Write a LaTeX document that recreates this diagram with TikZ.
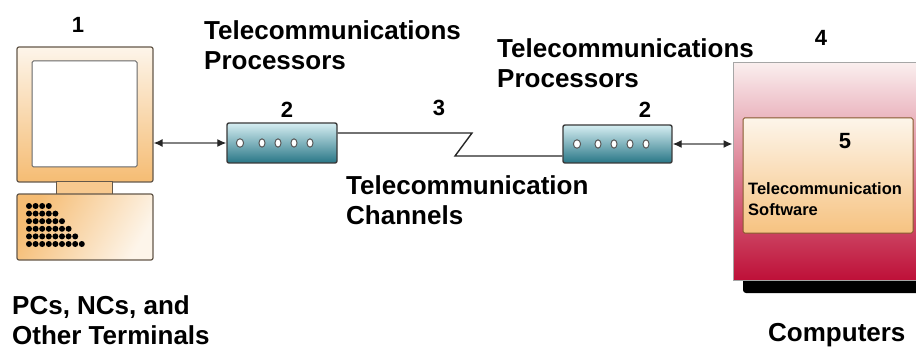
\documentclass[tikz,border=0pt]{standalone}
\usepackage{fontspec}
\setmainfont{Liberation Sans}
\usetikzlibrary{arrows.meta}

\definecolor{frameedge}{RGB}{100,88,74}
\definecolor{tanlight}{RGB}{253,245,234}
\definecolor{tandark}{RGB}{245,188,115}
\definecolor{teallight}{RGB}{214,238,242}
\definecolor{tealdark}{RGB}{40,118,134}
\definecolor{hostlight}{RGB}{250,238,238}
\definecolor{hostmid}{RGB}{226,140,158}
\definecolor{hostdark}{RGB}{190,16,56}
\definecolor{arrowgray}{RGB}{130,130,130}

\tikzset{
  bigtext/.style={inner sep=0pt, anchor=north west, align=left,
    font=\fontsize{26}{30}\selectfont\bfseries},
  numlabel/.style={inner sep=0pt, font=\fontsize{22}{26}\selectfont\bfseries},
  monframe/.style={draw=frameedge, line width=1.2pt, rounded corners=2pt,
    top color=tanlight, bottom color=tandark,
    minimum width=136pt, minimum height=135pt, inner sep=0pt},
  screen/.style={draw=gray!80!black, line width=1pt, rounded corners=1.5pt,
    fill=white, minimum width=105pt, minimum height=106pt, inner sep=0pt},
  neck/.style={draw=frameedge, line width=1pt, fill=tandark!80!white,
    minimum width=56pt, minimum height=13pt, inner sep=0pt},
  keybase/.style={draw=frameedge, line width=1.2pt, rounded corners=2pt,
    shading=axis, left color=tandark, right color=tanlight, shading angle=60,
    minimum width=136pt, minimum height=66pt, inner sep=0pt},
  modem/.style={draw=gray!45!black, line width=1.4pt, rounded corners=2pt,
    top color=teallight, bottom color=tealdark, inner sep=0pt},
  hole/.style={draw=gray!70!black, line width=1pt, fill=white},
  host/.style={draw=gray!70, line width=1pt,
    top color=hostlight, middle color=hostmid, bottom color=hostdark,
    minimum width=186pt, minimum height=217pt, inner sep=0pt},
  swbox/.style={draw=brown!70!black, line width=1pt, rounded corners=1.5pt,
    top color=tanlight, bottom color=tandark!90!white,
    minimum width=170pt, minimum height=115pt, inner sep=0pt},
  link/.style={draw=arrowgray, line width=1.3pt,
    {Latex[length=9pt,width=8pt,color=black!85]}-{Latex[length=9pt,width=8pt,color=black!85]}},
  channel/.style={draw=black!85, line width=1.4pt},
}

\begin{document}
\begin{tikzpicture}[x=1pt,y=-1pt]
  \useasboundingbox (0,0) rectangle (916,350);

  % terminal: monitor, neck and keyboard base
  \node[monframe] (monitor) at (85,114.5) {};
  \node[screen] (screen) at (84.5,114) {};
  \node[neck] (neck) at (84,188.5) {};
  \node[keybase] (kbd) at (85,227) {};
  \foreach \r in {0,...,5} {
    \pgfmathtruncatemacro{\n}{3+\r}
    \foreach \i in {0,...,\n} {
      \fill[black] (29+\i*6.6, 206+\r*7.6) circle (3pt);
    }
  }

  % telecommunications processors
  \node[modem, minimum width=110pt, minimum height=40pt] (modemA) at (282,143) {};
  \node[modem, minimum width=109pt, minimum height=38pt] (modemB) at (617.5,144) {};
  \foreach \x/\w in {240/3.6, 262/3, 278/3, 294/3, 310/3}
    \draw[hole] (\x,143) ellipse ({\w pt} and 4.2pt);
  \foreach \x/\w in {577/3.6, 598/3, 614/3, 630/3, 646/3}
    \draw[hole] (\x,144) ellipse ({\w pt} and 4.2pt);

  % host computer with its software
  \fill[black, rounded corners=3pt] (743,276) rectangle (925,293);
  \node[host] (computer) at (826,171.5) {};
  \node[swbox] (software) at (828,175.5) {};

  % channel with its break
  \coordinate (bendA) at (472,133);
  \coordinate (bendB) at (455,156);
  \draw[channel] ([yshift=10pt]modemA.east) -- (bendA) -- (bendB)
    -- ([yshift=-12pt]modemB.west);

  % links
  \draw[link] (modemA.west -| monitor.east) -- (modemA.west);
  \draw[link] (modemB.east) -- (computer.west |- modemB.east);

  % numbers
  \node[numlabel] (n1) at (78,25) {1};
  \node[numlabel] (n2a) at (287,110) {2};
  \node[numlabel] (n3) at (439,107.5) {3};
  \node[numlabel] (n2b) at (645,110) {2};
  \node[numlabel] (n4) at (821,38) {4};
  \node[numlabel] (n5) at (845,141) {5};

  % captions
  \node[bigtext] (tpA) at (204,20) {Telecommunications\\Processors};
  \node[bigtext] (tpB) at (497,38) {Telecommunications\\Processors};
  \node[bigtext] (chan) at (346,175) {Telecommunication\\Channels};
  \node[bigtext] (pcs) at (12,295) {PCs, NCs, and\\Other Terminals};
  \node[bigtext] (comp) at (768,323) {Computers};
  \node[inner sep=0pt, anchor=north west, align=left,
    font=\fontsize{16.5}{21}\selectfont\bfseries] (swtext) at (748,182)
    {Telecommunication\\Software};
\end{tikzpicture}
\end{document}
